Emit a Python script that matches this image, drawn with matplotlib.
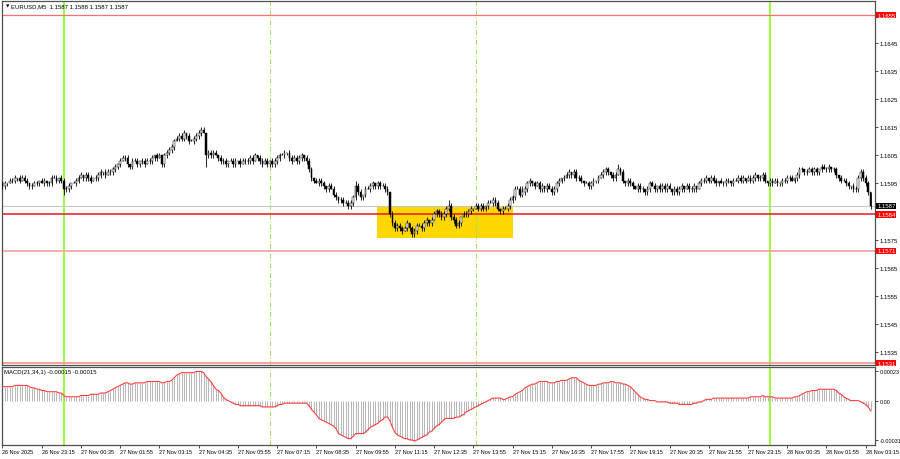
import matplotlib.pyplot as plt
import matplotlib.transforms as mtransforms

# EURUSD M5, one value per 5-minute bar, price in pips above 1.1500
closes = [
    94, 95, 95, 96, 96, 97, 97, 96, 97, 96,
    95, 94, 94, 95, 95, 96, 95, 96, 95, 95,
    97, 97, 96, 97, 96, 93, 93, 94, 95, 95,
    96, 97, 98, 97, 98, 97, 96, 97, 97, 98,
    99, 99, 98, 99, 99, 100, 101, 102, 103, 104,
    104, 102, 101, 103, 103, 102, 103, 103, 102, 103,
    103, 104, 105, 104, 105, 102, 105, 106, 107, 108,
    110, 111, 112, 111, 113, 112, 110, 110, 111, 112,
    113, 114, 113, 105, 106, 105, 106, 105, 104, 103,
    103, 102, 103, 103, 102, 103, 103, 102, 103, 103,
    103, 104, 103, 105, 104, 103, 102, 103, 102, 103,
    102, 103, 104, 105, 105, 106, 106, 104, 103, 104,
    103, 104, 105, 104, 103, 100, 97, 96, 95, 96,
    95, 94, 93, 94, 93, 91, 90, 89, 89, 88,
    88, 87, 88, 90, 94, 92, 90, 91, 93, 93,
    94, 95, 94, 95, 94, 94, 93, 92, 84, 81,
    79, 80, 79, 78, 79, 81, 79, 77, 78, 80,
    80, 79, 81, 82, 81, 82, 84, 85, 84, 83,
    84, 86, 87, 83, 82, 80, 81, 83, 84, 84,
    85, 86, 86, 87, 86, 87, 86, 87, 88, 88,
    89, 88, 86, 85, 86, 86, 87, 89, 90, 93,
    93, 91, 92, 93, 95, 96, 95, 94, 95, 93,
    94, 93, 94, 93, 92, 93, 95, 96, 97, 97,
    98, 99, 98, 99, 97, 97, 96, 95, 95, 94,
    95, 96, 96, 97, 98, 99, 100, 99, 98, 97,
    98, 100, 99, 96, 95, 96, 95, 94, 93, 94,
    93, 93, 92, 93, 95, 94, 93, 94, 93, 94,
    93, 94, 93, 92, 93, 92, 93, 94, 93, 94,
    93, 93, 94, 93, 95, 96, 96, 97, 96, 97,
    96, 95, 96, 95, 95, 96, 96, 95, 96, 96,
    97, 96, 97, 96, 97, 96, 97, 98, 97, 97,
    98, 96, 95, 96, 95, 96, 95, 95, 96, 96,
    97, 97, 96, 97, 98, 100, 100, 99, 99, 100,
    99, 100, 99, 100, 101, 100, 100, 101, 100, 100,
    98, 97, 96, 96, 95, 94, 94, 93, 93, 97,
    99, 97, 95, 92, 87,
]
first_open = 95

# wick lengths above / below the body, pips
wick_up = [
    1, 1, 0, 1, 1, 1, 0, 1, 1, 1,  1, 0, 1, 1, 1, 0, 1, 1, 0, 1,
    1, 1, 1, 0, 1, 1, 1, 1, 0, 1,  1, 1, 1, 0, 1, 1, 1, 0, 1, 1,
    1, 0, 1, 1, 1, 1, 1, 0, 1, 1,  1, 1, 0, 1, 1, 1, 0, 1, 1, 1,
    1, 1, 0, 1, 1, 0, 1, 1, 1, 1,  1, 1, 1, 1, 1, 0, 1, 1, 1, 1,
    1, 1, 1, 0, 1, 1, 1, 1, 0, 1,  1, 1, 0, 1, 1, 1, 0, 1, 1, 1,
    1, 1, 1, 1, 0, 1, 1, 1, 1, 0,  1, 1, 1, 1, 1, 1, 0, 1, 1, 1,
    1, 1, 1, 0, 1, 1, 1, 0, 1, 1,  1, 1, 0, 1, 1, 1, 1, 0, 1, 1,
    1, 1, 1, 1, 2, 1, 1, 0, 1, 1,  1, 1, 0, 1, 1, 1, 1, 1, 0, 1,
    1, 1, 1, 1, 1, 1, 0, 1, 1, 1,  1, 1, 1, 1, 0, 1, 1, 1, 1, 1,
    1, 1, 2, 1, 1, 1, 1, 0, 1, 1,  1, 1, 0, 1, 1, 1, 1, 0, 1, 1,
    1, 1, 1, 0, 1, 1, 1, 1, 1, 1,  1, 1, 2, 1, 1, 1, 0, 1, 1, 1,
    1, 0, 1, 1, 1, 1, 1, 1, 0, 1,  1, 1, 0, 1, 1, 1, 1, 0, 1, 1,
    1, 1, 0, 1, 1, 1, 1, 1, 0, 1,  1, 2, 1, 1, 0, 1, 1, 1, 0, 1,
    1, 1, 0, 1, 1, 1, 1, 0, 1, 1,  1, 1, 1, 0, 1, 1, 1, 1, 0, 1,
    1, 1, 1, 0, 1, 1, 1, 1, 0, 1,  1, 1, 0, 1, 1, 1, 1, 0, 1, 1,
    1, 1, 1, 0, 1, 1, 1, 1, 0, 1,  1, 1, 0, 1, 1, 1, 1, 0, 1, 1,
    1, 1, 1, 0, 1, 1, 1, 0, 1, 1,  1, 1, 1, 0, 1, 1, 1, 1, 0, 1,
    1, 0, 1, 1, 1, 1, 0, 1, 1, 1,  1, 1, 1, 1, 0,
]
wick_dn = [
    1, 1, 1, 0, 1, 1, 1, 1, 0, 1,  1, 1, 1, 0, 1, 1, 0, 1, 1, 1,
    1, 0, 1, 1, 1, 2, 1, 1, 1, 0,  1, 1, 0, 1, 1, 1, 1, 0, 1, 1,
    1, 1, 1, 0, 1, 1, 1, 1, 1, 0,  1, 1, 1, 1, 0, 1, 1, 1, 1, 0,
    1, 1, 1, 1, 0, 1, 1, 1, 1, 1,  1, 0, 1, 1, 1, 1, 1, 0, 1, 1,
    1, 1, 0, 4, 1, 1, 1, 0, 1, 1,  1, 1, 1, 0, 1, 1, 1, 1, 0, 1,
    1, 1, 1, 0, 1, 1, 1, 0, 1, 1,  1, 1, 1, 1, 0, 1, 1, 1, 1, 0,
    1, 1, 1, 1, 1, 1, 1, 1, 0, 1,  1, 1, 1, 1, 0, 1, 1, 1, 1, 1,
    0, 1, 1, 1, 1, 1, 1, 1, 1, 0,  1, 1, 1, 1, 1, 0, 1, 1, 1, 1,
    1, 1, 1, 1, 0, 1, 1, 1, 1, 1,  0, 1, 1, 1, 1, 1, 0, 1, 1, 1,
    1, 1, 1, 1, 1, 1, 1, 1, 0, 1,  1, 1, 1, 0, 1, 1, 1, 1, 1, 0,
    1, 1, 1, 1, 1, 0, 1, 1, 1, 1,  0, 1, 1, 1, 1, 1, 1, 1, 0, 1,
    1, 1, 1, 0, 1, 1, 1, 1, 1, 1,  0, 1, 1, 1, 1, 1, 1, 1, 0, 1,
    1, 1, 1, 1, 0, 1, 1, 1, 1, 1,  1, 0, 1, 1, 1, 1, 1, 1, 0, 1,
    1, 1, 1, 1, 1, 0, 1, 1, 1, 1,  1, 1, 0, 1, 1, 1, 1, 1, 1, 0,
    1, 1, 1, 1, 0, 1, 1, 1, 1, 1,  1, 1, 1, 0, 1, 1, 1, 1, 1, 0,
    1, 1, 1, 1, 0, 1, 1, 1, 1, 1,  1, 1, 1, 1, 1, 0, 1, 1, 1, 1,
    1, 1, 0, 1, 1, 1, 1, 1, 1, 0,  1, 1, 1, 1, 1, 0, 1, 1, 1, 1,
    1, 1, 1, 0, 1, 1, 1, 1, 1, 1,  1, 1, 1, 1, 1,
]

# MACD(21,34,1) main value per bar, units of 0.00001
macd = [
    11, 11, 11, 11, 11, 12, 12, 12, 12, 12,
    12, 11, 10, 10, 9, 9, 8, 8, 7, 7,
    7, 7, 7, 6, 6, 4, 3, 3, 3, 3,
    3, 3, 4, 4, 4, 4, 5, 5, 5, 5,
    6, 6, 6, 7, 8, 9, 10, 11, 12, 13,
    14, 14, 13, 13, 14, 14, 14, 14, 14, 15,
    15, 15, 15, 15, 15, 14, 14, 15, 15, 16,
    18, 20, 21, 22, 22, 22, 22, 22, 22, 23,
    23, 23, 22, 19, 17, 15, 12, 9, 8, 6,
    3, 1, 0, -1, -2, -3, -3, -4, -4, -4,
    -4, -4, -4, -4, -4, -4, -5, -5, -5, -5,
    -5, -5, -4, -3, -3, -2, -2, -2, -2, -2,
    -2, -2, -2, -2, -2, -4, -7, -9, -11, -14,
    -15, -16, -17, -18, -19, -20, -22, -26, -27, -28,
    -29, -30, -30, -28, -26, -26, -26, -26, -25, -23,
    -21, -20, -19, -18, -16, -15, -13, -13, -16, -21,
    -25, -27, -28, -29, -30, -30, -31, -31, -32, -31,
    -30, -29, -28, -27, -25, -24, -22, -20, -19, -17,
    -15, -14, -14, -14, -14, -13, -13, -12, -11, -9,
    -8, -7, -6, -5, -4, -3, -2, -1, 0, 1,
    2, 2, 2, 2, 1, 1, 2, 3, 3, 5,
    6, 7, 8, 10, 11, 12, 13, 13, 14, 15,
    15, 15, 15, 14, 14, 14, 15, 15, 16, 16,
    16, 17, 18, 18, 18, 16, 15, 14, 13, 12,
    12, 12, 12, 13, 13, 14, 14, 14, 15, 15,
    14, 14, 14, 13, 13, 12, 11, 9, 7, 5,
    3, 2, 1, 1, 0, 0, 0, -1, -1, -1,
    -1, -1, -2, -2, -2, -2, -3, -3, -3, -3,
    -3, -3, -2, -2, -1, -1, 0, 1, 1, 1,
    2, 2, 2, 2, 2, 2, 2, 2, 2, 2,
    2, 2, 2, 2, 2, 3, 3, 3, 3, 3,
    4, 3, 3, 3, 3, 2, 2, 2, 2, 2,
    2, 2, 2, 3, 3, 4, 5, 6, 7, 7,
    8, 8, 8, 9, 9, 9, 9, 9, 9, 9,
    8, 6, 5, 3, 2, 1, 0, 0, 0, 0,
    -1, -2, -3, -5, -8,
]

time_ticks = [0, 16, 32, 48, 64, 80, 96, 112, 128, 144, 160, 176,
              192, 208, 224, 240, 256, 272, 288, 304, 320, 336, 352]
time_labels = ['26 Nov 2025', '26 Nov 23:15', '27 Nov 00:35', '27 Nov 01:55',
               '27 Nov 03:15', '27 Nov 04:35', '27 Nov 05:55', '27 Nov 07:15',
               '27 Nov 08:35', '27 Nov 09:55', '27 Nov 11:15', '27 Nov 12:35',
               '27 Nov 13:55', '27 Nov 15:15', '27 Nov 16:35', '27 Nov 17:55',
               '27 Nov 19:15', '27 Nov 20:35', '27 Nov 21:55', '27 Nov 23:15',
               '28 Nov 00:35', '28 Nov 01:55', '28 Nov 03:15']
# 1.1585 sits under the price boxes in the reference, so it is left out
price_ticks = [1.1535, 1.1545, 1.1555, 1.1565, 1.1575,
               1.1595, 1.1605, 1.1615, 1.1625, 1.1635, 1.1645]
levels = [1.1655, 1.1584, 1.1571, 1.1531]
bid = 1.1587
macd_ticks = [23, 0, -31]
macd_tick_labels = ['0.00023', '0.00', '-0.00031']
day_lines = [25, 313]
session_lines = [109, 193]
zone_bars = (152.9, 208.0)
zone_prices = (1.15755, 1.15869)

FONT = ['Liberation Sans', 'DejaVu Sans']
plt.rcParams['font.family'] = FONT
FS = 4.3

n = len(closes)
xs = list(range(n))
opens = [first_open] + closes[:-1]
o = [1.15 + v / 10000 for v in opens]
c = [1.15 + v / 10000 for v in closes]
hi = [max(a, b) + u / 10000 for a, b, u in zip(o, c, wick_up)]
lo = [min(a, b) - d / 10000 for a, b, d in zip(o, c, wick_dn)]

fig = plt.figure(figsize=(9, 4.6), dpi=100)
ax = fig.add_axes([2 / 900, 1 - 366 / 460, 873 / 900, 364 / 460])
ax2 = fig.add_axes([2 / 900, 14 / 460, 873 / 900, 78 / 460])

for a in (ax, ax2):
    a.set_xlim(-0.2, 355.8)
    for s in a.spines.values():
        s.set_color('#505050')
        s.set_linewidth(0.9)
    for b in day_lines:
        a.axvline(b, color='#7cfc00', lw=1.1, zorder=1)
    for b in session_lines:
        a.axvline(b, color='#9be35a', lw=0.7, ls=(0, (5, 2, 1, 2)), zorder=1)

# main price panel
ax.set_ylim(1.15303, 1.16600)
ax.add_patch(plt.Rectangle((zone_bars[0], zone_prices[0]), zone_bars[1] - zone_bars[0],
                           zone_prices[1] - zone_prices[0], color='#ffd700', lw=0, zorder=0.5))
ax.axhline(bid, color='#c8c8c8', lw=0.8, zorder=1)
level_style = {1.1655: ('#ff6e6e', 0.9), 1.1584: ('#e8161b', 1.1),
               1.1571: ('#f5a0a0', 1.2), 1.1531: ('#f5a0a0', 1.4)}
for lv in levels:
    ax.axhline(lv, color=level_style[lv][0], lw=level_style[lv][1], zorder=1)

ax.vlines(xs, lo, hi, color='black', lw=0.6, zorder=3)
body_col = ['white' if b >= a else 'black' for a, b in zip(o, c)]
ax.bar(xs, [b - a for a, b in zip(o, c)], bottom=o, width=0.72, color=body_col,
       edgecolor='black', linewidth=0.35, zorder=4)

ax.set_xticks([])
ax.yaxis.tick_right()
ax.set_yticks(price_ticks)
ax.set_yticklabels([f'{t:.4f}' for t in price_ticks])
ax.tick_params(axis='y', length=2, width=0.5, pad=1.5, labelsize=FS, colors='black')

tr = mtransforms.blended_transform_factory(ax.transAxes, ax.transData)
for lv in levels:
    ax.text(1.0025, lv, f'{lv:.4f}', transform=tr, fontsize=FS, color='white',
            va='center', ha='left', clip_on=False, zorder=10,
            bbox=dict(boxstyle='square,pad=0.12', fc='#ff0000', ec='none'))
ax.text(1.0025, bid, f'{bid:.4f}', transform=tr, fontsize=FS, color='white',
        va='center', ha='left', clip_on=False, zorder=10,
        bbox=dict(boxstyle='square,pad=0.12', fc='black', ec='none'))

fig.text(6 / 900, 1 - 7 / 460, '\u25bc', fontsize=3.2, va='center', ha='left',
         family=['DejaVu Sans'])
fig.text(11 / 900, 1 - 7 / 460, 'EURUSD,M5  1.1587 1.1588 1.1587 1.1587',
         fontsize=FS, va='center', ha='left')

# MACD panel
ax2.set_ylim(-35, 26.5)
ax2.vlines(xs, 0, macd, color='#b8b8b8', lw=0.75, zorder=2)
ax2.plot(xs, macd, color='#ff3535', lw=0.75, zorder=3)
ax2.yaxis.tick_right()
ax2.set_yticks(macd_ticks)
ax2.set_yticklabels(macd_tick_labels)
ax2.tick_params(axis='y', length=2, width=0.5, pad=1.2, labelsize=3.9)
ax2.set_xticks(time_ticks)
ax2.set_xticklabels(time_labels, ha='left')
ax2.tick_params(axis='x', length=2, width=0.5, pad=1.2, labelsize=4.0)
fig.text(4 / 900, 1 - 373 / 460, 'MACD(21,34,1) -0.00015 -0.00015',
         fontsize=FS, va='center', ha='left')

fig.savefig('out.png', dpi=100)
